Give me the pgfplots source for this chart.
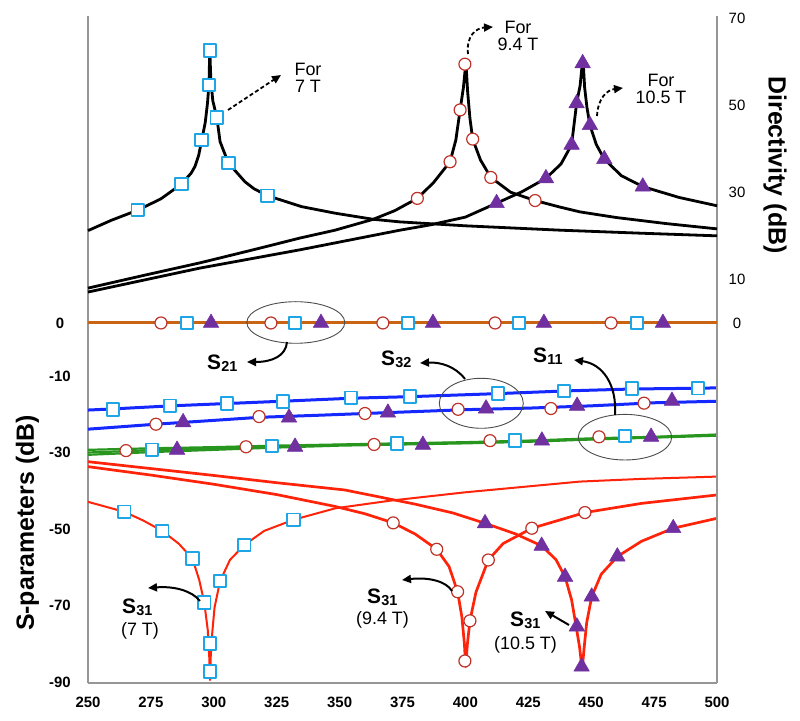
\documentclass[border=0pt]{standalone}
\usepackage{fontspec}
\setmainfont{Liberation Sans}
\usepackage{pgfplots}
\pgfplotsset{compat=1.18}
\usetikzlibrary{arrows.meta}
\definecolor{sqc}{RGB}{30,165,230}
\definecolor{circc}{RGB}{190,50,40}
\definecolor{tric}{RGB}{112,48,160}
\definecolor{s21c}{RGB}{200,100,20}
\definecolor{bluec}{RGB}{20,40,255}
\definecolor{greenc}{RGB}{40,150,30}
\definecolor{redc}{RGB}{255,35,10}
\definecolor{axc}{RGB}{150,150,150}
\newcommand{\Ssub}[1]{S\kern0.3bp\raisebox{-2bp}{\fontsize{14.5}{16}\selectfont #1}}
\begin{document}
\begin{tikzpicture}
\useasboundingbox (0,0) rectangle (800bp,721bp);
\pgfplotsset{
 common/.style={scale only axis, width=629bp, height=667bp, at={(88bp,38bp)}, anchor=south west,
   xmin=250, xmax=500, enlargelimits=false, clip=false,
   axis line style={draw=axc, line width=2bp, -},
   major tick length=0pt, minor tick num=0,
   every axis plot/.append style={line join=round}},
 sq/.style={only marks, mark=square*, mark size=6.3bp, mark options={draw=sqc, fill=white, line width=1.9bp}},
 ci/.style={only marks, mark=*, mark size=6bp, mark options={draw=circc, fill=white, line width=1.2bp}},
 tr/.style={only marks, mark=triangle*, mark size=9bp, mark options={draw=tric, fill=tric, line width=0.5bp}},
}
% ---------------- S-parameters (left axis) ----------------
\begin{axis}[common, ymin=-90.26, ymax=84.12,
  axis x line*=bottom, axis y line*=left,
  xtick={250,275,300,325,350,375,400,425,450,475,500},
  xticklabels={250,275,300,325,350,375,400,425,450,475,500},
  ytick={-90,-70,-50,-30,-10,3.86},
  yticklabels={-90,-70,-50,-30,-10,0},
  xticklabel style={font=\fontsize{15}{18}\selectfont\bfseries, anchor=center, yshift=-19bp},
  yticklabel style={font=\fontsize{15}{18}\selectfont\bfseries, anchor=center, xshift=-28bp},
]
% S11 (green)
\addplot[greenc, line width=2.2bp] coordinates {(250,-29.3) (275,-28.9) (300,-28.6) (325,-28.2) (350,-27.9) (375,-27.6) (400,-27.3) (425,-26.9) (450,-26.3) (475,-25.9) (500,-25.3)};
\addplot[greenc, line width=2.2bp] coordinates {(250,-30.6) (275,-29.9) (300,-29.3) (325,-28.7) (350,-28.2) (375,-27.9) (400,-27.6) (425,-27.2) (450,-26.6) (475,-26.1) (500,-25.6)};
\addplot[greenc, line width=2.2bp] coordinates {(250,-30.0) (275,-29.4) (300,-28.9) (325,-28.5) (350,-28.0) (375,-27.7) (400,-27.4) (425,-27.0) (450,-26.5) (475,-26.0) (500,-25.4)};
% S32 (blue)
\addplot[bluec, line width=3bp] coordinates {(250,-18.9) (260,-18.6) (283,-17.8) (305,-17.2) (327,-16.6) (355,-15.8) (378,-15.4) (413,-14.6) (440,-13.9) (466,-13.4) (492,-13.2) (500,-13.1)};
\addplot[bluec, line width=3bp] coordinates {(250,-23.9) (277,-22.6) (300,-21.6) (318,-20.8) (340,-20.3) (360,-19.8) (380,-19.3) (400,-18.8) (425,-18.4) (450,-17.8) (475,-17.0) (500,-16.6)};
% S31 (red)
\addplot[redc, line width=2bp] coordinates {(250,-42.9) (264.4,-45.5) (272,-47.8) (279.5,-50.5) (286,-53.8) (291.5,-57.7) (294.2,-63.3) (296.2,-69.2) (297.6,-76.4) (298.2,-83.5) (298.5,-89.5) (298.8,-83) (299.4,-77) (300.3,-70.5) (302.5,-63.6) (306.4,-58.1) (312.1,-54.2) (320,-50.5) (331.6,-47.6) (348.2,-44.6) (370,-42.6) (400,-40.4) (445.5,-37.6) (470,-36.9) (500,-36.3)};
\addplot[redc, line width=2.7bp] coordinates {(250,-33.7) (275,-35.9) (300,-38.3) (325,-41.0) (348.2,-44.1) (360,-46.0) (371.3,-48.4) (380,-51.3) (388.6,-55.3) (393.5,-59.8) (396.9,-66.4) (398.6,-73) (399.6,-80) (400.1,-86) (400.8,-80) (401.8,-74.0) (404.2,-66.5) (409.1,-58.1) (415,-53.8) (426.4,-49.8) (447.5,-45.7) (470,-43.3) (500,-41.1)};
\addplot[redc, line width=2.7bp] coordinates {(250,-32.4) (275,-34.2) (300,-36.0) (325,-37.9) (352.1,-39.8) (380,-43.5) (395,-45.8) (407.8,-48.5) (420,-51.3) (430.3,-54.4) (436,-58) (439.6,-62.5) (442.2,-68.5) (443.9,-75) (445.4,-81) (446.4,-86.8) (447.2,-81) (448.2,-74.5) (450.2,-67.7) (454,-61.8) (460.4,-57.2) (470,-53.2) (482.6,-49.8) (500,-47.2)};
% markers
\addplot[sq] coordinates {(264.4,-45.5) (279.5,-50.5) (291.5,-57.7) (296.2,-69.2) (298.5,-79.9) (298.5,-87.3) (302.5,-63.6) (312.1,-54.2) (331.6,-47.6)};
\addplot[ci] coordinates {(371.3,-48.4) (388.6,-55.3) (396.9,-66.4) (399.8,-84.5) (401.8,-74.0) (409.1,-58.1) (426.4,-49.8) (447.5,-45.7)};
\addplot[tr] coordinates {(407.8,-48.5) (430.3,-54.4) (439.6,-62.5) (444.3,-75.5) (446.2,-86.0) (450.2,-67.7) (460.4,-57.2) (482.6,-49.8)};
\addplot[sq] coordinates {(259.9,-18.7) (282.6,-17.8) (305.2,-17.2) (327.5,-16.6) (354.5,-15.7) (378,-15.4) (413,-14.6) (439.2,-13.9) (466.2,-13.3) (492.4,-13.2)};
\addplot[ci] coordinates {(277.0,-22.6) (318.0,-20.6) (360.1,-19.8) (397.1,-18.7) (434.0,-18.5) (471.0,-17.1)};
\addplot[tr] coordinates {(287.8,-22.1) (329.9,-20.9) (369.2,-19.6) (408.2,-18.5) (444.4,-17.8) (482.1,-16.5)};
\addplot[ci] coordinates {(265.1,-29.5) (312.8,-28.5) (363.7,-27.9) (409.8,-26.9) (453.1,-25.9)};
\addplot[sq] coordinates {(275.4,-29.3) (323.1,-28.3) (372.8,-27.6) (419.7,-26.9) (463.4,-25.7)};
\addplot[tr] coordinates {(285.4,-29.3) (332.3,-28.5) (383.1,-28.0) (430.4,-26.9) (473.8,-25.9)};
\end{axis}
% ---------------- Directivity (right axis) ----------------
\begin{axis}[common, ymin=-82.63, ymax=70.46,
  axis x line=none, axis y line*=right, xtick=\empty,
  ytick={0,10,30,50,70}, yticklabels={0,10,30,50,70},
  yticklabel style={font=\fontsize{15}{18}\selectfont, anchor=center, xshift=20bp},
]
% S21 line at 0 dB
\addplot[s21c, line width=3bp] coordinates {(250,0) (500,0)};
\addplot[ci] coordinates {(279.0,0) (322.7,0) (367.2,0) (411.8,0) (457.9,0)};
\addplot[sq] coordinates {(289.3,0) (332.3,0) (377.2,0) (421.3,0) (468.2,0)};
\addplot[tr] coordinates {(298.9,0) (342.6,0) (387.1,0) (431.2,0) (478.5,0)};
% directivity curves
\addplot[black, line width=2.8bp] coordinates {(250,21.2) (259.4,23.6) (269.8,25.9) (279,28.5) (287.2,31.9) (291,34.4) (292.5,35.9) (294,38.5) (295.2,42.0) (296.6,46.0) (297.5,50.5) (298.1,55.0) (298.4,63.0) (298.8,56.0) (299.6,51.0) (301.2,47.2) (302.5,41.6) (305.8,36.7) (312.4,32.4) (316,30.8) (321.4,29.2) (334.9,26.7) (348.2,25.2) (363.3,23.8) (374,23.2) (400,22.3) (437.6,21.3) (470,20.6) (500,20.0)};
\addplot[black, line width=2.8bp] coordinates {(250,8.0) (272,10.9) (294.5,13.8) (315,16.7) (334.3,19.5) (348.2,21.3) (363.4,23.8) (372,25.8) (380.9,28.6) (387.3,32.2) (393.9,37.0) (396.2,42.0) (397.9,48.9) (399.2,54.0) (400.2,59.8) (400.9,53.0) (401.8,47.0) (402.9,42.2) (406,37.4) (410.1,33.4) (418,30.0) (427.7,28.1) (437.6,26.6) (445.5,25.5) (460,24.2) (480,22.8) (500,21.6)};
\addplot[black, line width=2.8bp] coordinates {(250,7.1) (294.5,12.6) (334.3,16.8) (374,21.3) (385.9,22.5) (400,24.3) (412.4,27.5) (422.4,30.1) (432,33.2) (438,36.5) (442.2,40.9) (444.2,50.4) (445.6,54.5) (446.7,61.0) (447.4,54.0) (448.3,49.5) (449.5,45.4) (452,41.0) (455.2,37.6) (462,33.8) (470.5,31.3) (485,28.8) (500,26.9)};
\addplot[sq] coordinates {(269.8,25.9) (287.2,31.9) (295.2,42.0) (298.1,54.6) (298.5,62.5) (301.2,47.2) (305.8,36.7) (321.4,29.2)};
\addplot[ci] coordinates {(380.9,28.6) (393.9,37.0) (397.9,48.9) (399.8,59.4) (402.9,42.2) (410.1,33.4) (427.7,28.1)};
\addplot[tr] coordinates {(412.4,27.5) (432.0,33.2) (442.2,40.9) (444.2,50.4) (446.6,59.6) (449.5,45.4) (455.2,37.6) (470.5,31.3)};
\end{axis}
% ---------------- annotations (image pixel coordinates) ----------------
\begin{scope}[shift={(0,721bp)}, x=1bp, y=-1bp]
 \node[rotate=90, font=\fontsize{25}{30}\selectfont\bfseries] at (27.5,523) {S-parameters (dB)};
 \node[rotate=-90, font=\fontsize{25}{30}\selectfont\bfseries] at (775,165) {Directivity (dB)};
 \node[align=center, font=\fontsize{18}{16.5}\selectfont, inner sep=0] at (308,78) {For\\7 T};
 \node[align=center, font=\fontsize{18}{16.5}\selectfont, inner sep=0] at (518,36) {For\\9.4 T};
 \node[align=center, font=\fontsize{18}{16.5}\selectfont, inner sep=0] at (661,89) {For\\10.5 T};
 \begin{scope}[line width=1.8bp, dash pattern=on 4bp off 2.5bp, -{Triangle[length=9bp,width=8bp]}]
  \draw (228,110) -- (281,75);
  \draw (468,54) .. controls (466,36) and (476,28) .. (493,27);
  \draw (597,116) .. controls (598,98) and (607,90) .. (623,88);
 \end{scope}
 \begin{scope}[line width=0.9bp, draw=black!70]
  \draw (295.8,322.5) ellipse [x radius=49bp, y radius=20.8bp];
  \draw (481.3,403.3) ellipse [x radius=42bp, y radius=25bp];
  \draw (625,437.2) ellipse [x radius=46.7bp, y radius=22.8bp];
 \end{scope}
 \begin{scope}[line width=2bp, -{Triangle[length=9bp,width=8bp]}]
  \draw (287,342) .. controls (286,356) and (272,362) .. (247,362);
  \draw (465,379) .. controls (455,366) and (440,362) .. (420,363);
  \draw (615,415) .. controls (617,385) and (603,364) .. (574,360);
  \draw (200,601) .. controls (192,591) and (175,586) .. (148,588);
  \draw (452,591) .. controls (446,581) and (428,577) .. (402,580);
  \draw (569,625) -- (545,611);
 \end{scope}
 \begin{scope}[every node/.style={anchor=base west, inner sep=0, font=\fontsize{21}{24}\selectfont\bfseries}]
  \node at (207,370) {\Ssub{21}};
  \node at (381,366) {\Ssub{32}};
  \node at (533,362.5) {\Ssub{11}};
  \node at (122,614) {\Ssub{31}};
  \node at (367,604) {\Ssub{31}};
  \node at (510,627) {\Ssub{31}};
 \end{scope}
 \begin{scope}[every node/.style={inner sep=0, font=\fontsize{18}{20}\selectfont}]
  \node at (140,631) {(7 T)};
  \node at (382.5,620) {(9.4 T)};
  \node at (525.5,644.5) {(10.5 T)};
 \end{scope}
\end{scope}
\end{tikzpicture}
\end{document}
